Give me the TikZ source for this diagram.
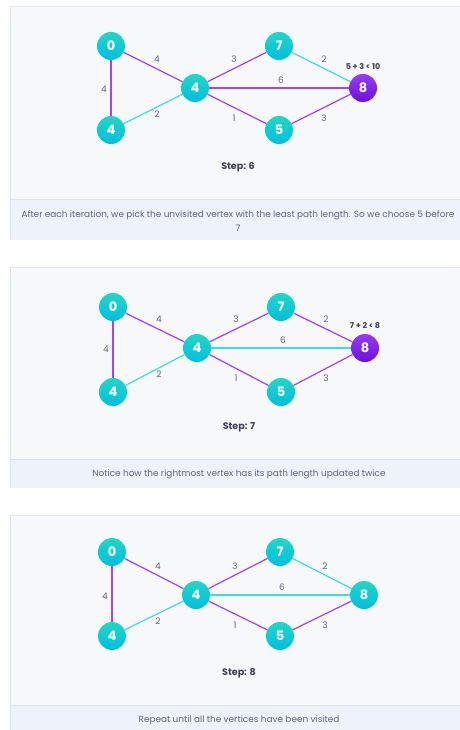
\documentclass[tikz,border=0pt]{standalone}
\usepackage{fontspec}
\setmainfont{Poppins}

\definecolor{panelbg}{HTML}{F7F8FA}
\definecolor{panelline}{HTML}{E2E6EE}
\definecolor{capbg}{HTML}{EEF2FB}
\definecolor{capline}{HTML}{DCE2F0}
\definecolor{tealtop}{HTML}{22D6C6}
\definecolor{tealbot}{HTML}{00BFE0}
\definecolor{purtop}{HTML}{9A3BF0}
\definecolor{purbot}{HTML}{6A10E0}
\definecolor{edgepur}{HTML}{A047F2}
\definecolor{edgecyan}{HTML}{3EDFD6}
\definecolor{inktext}{HTML}{3E3F5E}
\definecolor{labeltext}{HTML}{60617E}

\tikzset{
  vtx/.style={circle, minimum size=28pt, inner sep=0pt, text=white,
    font=\fontsize{13}{13}\selectfont\bfseries,
    top color=tealtop, bottom color=tealbot},
  vtxhot/.style={vtx, top color=purtop, bottom color=purbot},
  pe/.style={draw=edgepur, line width=1.25pt},
  ce/.style={draw=edgecyan, line width=1.25pt},
  elabel/.style={text=labeltext, font=\fontsize{9}{9}\selectfont, inner sep=0pt},
  steplabel/.style={text=inktext, font=\fontsize{9.5}{9.5}\selectfont\bfseries, inner sep=0pt},
  sumlabel/.style={text=inktext, font=\fontsize{8}{8}\selectfont\bfseries, inner sep=0pt},
  caption/.style={text=labeltext, font=\fontsize{8.9}{14}\selectfont, inner sep=0pt,
    align=center},
}

% #1 prefix, #2 left column x, #3 top row y, #4 middle row y, #5 bottom row y,
% #6 style of edge 7-8, #7 style of edge 4-8, #8 style of vertex 8
\newcommand{\weightedgraph}[8]{%
  \node[vtx] (#1a) at (#2,#3) {0};
  \node[vtx] (#1b) at (#2,#5) {4};
  \node[vtx] (#1c) at (#2+84,#4) {4};
  \node[vtx] (#1d) at (#2+168,#3) {7};
  \node[vtx] (#1e) at (#2+168,#5) {5};
  \node[#8] (#1f) at (#2+252,#4) {8};
  \draw[pe] (#1a) -- (#1c);
  \draw[pe] (#1a) -- (#1b);
  \draw[ce] (#1b) -- (#1c);
  \draw[pe] (#1c) -- (#1d);
  \draw[#6] (#1d) -- (#1f);
  \draw[#7] (#1c) -- (#1f);
  \draw[pe] (#1c) -- (#1e);
  \draw[pe] (#1e) -- (#1f);
  \path (#1c) ++(-38,-29) node[elabel] (#1w1) {4};
  \path (#1c) ++(-91,1)   node[elabel] (#1w2) {4};
  \path (#1c) ++(-38,26)  node[elabel] (#1w3) {2};
  \path (#1c) ++(39,-29)  node[elabel] (#1w4) {3};
  \path (#1c) ++(129,-29) node[elabel] (#1w5) {2};
  \path (#1c) ++(86,-8)   node[elabel] (#1w6) {6};
  \path (#1c) ++(39,30)   node[elabel] (#1w7) {1};
  \path (#1c) ++(129,30)  node[elabel] (#1w8) {3};
}

% panel frame: #1 top, #2 divider, #3 bottom
\newcommand{\panelframe}[3]{%
  \fill[panelbg] (10,#1) rectangle (470,#2);
  \fill[capbg] (10,#2) rectangle (470,#3);
  \draw[panelline, line width=0.8pt] (10,#3) -- (10,#1) -- (470,#1);
  \draw[capline, line width=0.8pt] (10,#2) -- (470,#2);
}

\begin{document}
\begin{tikzpicture}[x=1pt, y=-1pt]
  \useasboundingbox (0,0) rectangle (459,730);
  \fill[white] (0,0) rectangle (459,730);

  % ---- step 6 ----
  \panelframe{6}{199}{240}
  \weightedgraph{p}{111}{46}{88}{130}{ce}{pe}{vtxhot}
  \node[sumlabel] (psum) at (363,67) {5 + 3 < 10};
  \node[steplabel] (pstep) at (238,167) {Step: 6};
  \node[caption] (pcap) at (238,221) {After each iteration, we pick the unvisited vertex with the least path length. So we choose 5 before\\7};

  % ---- step 7 ----
  \panelframe{267}{459}{488}
  \weightedgraph{q}{113}{307}{348}{392}{pe}{ce}{vtxhot}
  \node[sumlabel] (qsum) at (365,326) {7 + 2 < 8};
  \node[steplabel] (qstep) at (239,427) {Step: 7};
  \node[caption] (qcap) at (239,474) {Notice how the rightmost vertex has its path length updated twice};

  % ---- step 8 ----
  \panelframe{515}{705}{740}
  \weightedgraph{r}{112}{552}{595}{636}{ce}{ce}{vtx}
  \node[steplabel] (rstep) at (239,673) {Step: 8};
  \node[caption] (rcap) at (239,720) {Repeat until all the vertices have been visited};
\end{tikzpicture}
\end{document}
